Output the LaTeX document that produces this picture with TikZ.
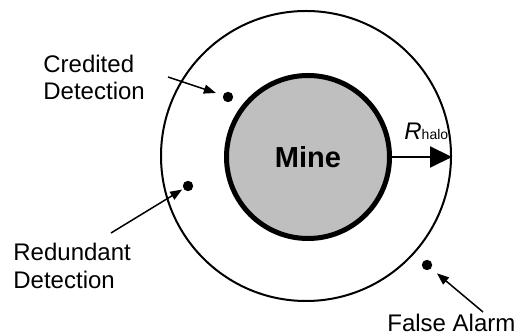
\documentclass[tikz,border=0pt]{standalone}
\usepackage{fontspec}
\setmainfont{Liberation Sans}
\usepackage{xcolor}
\usetikzlibrary{arrows.meta}
\tikzstyle{zone} = [circle, draw=black, line width=1pt, minimum size=145pt, inner sep=0pt]
\tikzstyle{mine} = [circle, draw=black, line width=2.5pt, fill=black!25, minimum size=81.5pt, inner sep=0pt, font=\fontsize{14.5}{17}\selectfont\bfseries]
\tikzstyle{hit} = [circle, fill=black, minimum size=5.2pt, inner sep=0pt]
\tikzstyle{note} = [align=left, inner sep=0pt, anchor=base west, font=\fontsize{12}{13.5}\selectfont]
\tikzstyle{arrow} = [line width=0.75pt, -{Triangle[length=6pt,width=4.5pt]}]
\tikzstyle{halolen} = [line width=1pt, -{Triangle[length=11pt,width=10.5pt]}]

\begin{document}
\begin{tikzpicture}[x=0.5pt, y=-0.5pt]
        \useasboundingbox (0,0) rectangle (517,335);
        \node (halo) [zone] at (306,156) {};
        \node (mine) [mine] at (308,157) {Mine};
        \node (credited) [hit] at (228,97) {};
        \node (redundant) [hit] at (188,186) {};
        \node (alarm) [hit] at (427,265) {};
        % base anchor sits on the last line
        \node (credtext) [note] at (43,100) {Credited\\Detection};
        \node (redtext) [note] at (13,288) {Redundant\\Detection};
        \node (alarmtext) [note] at (387,331) {False Alarm};
        \node (rtext) [note] at (404,140) {\textit{R}{\fontsize{7}{8}\selectfont halo}};
        \coordinate (credtail) at (168,77);
        \coordinate (redtail) at (111,233);
        \coordinate (alarmtail) at (483,312);

        \draw [halolen] (mine.east) -- (mine.east -| halo.east);
        \draw [arrow, shorten >=3.6pt] (credtail) -- (credited);
        \draw [arrow, shorten >=0.6pt] (redtail) -- (redundant);
        \draw [arrow, shorten >=3.7pt] (alarmtail) -- (alarm);
    \end{tikzpicture}
\end{document}
